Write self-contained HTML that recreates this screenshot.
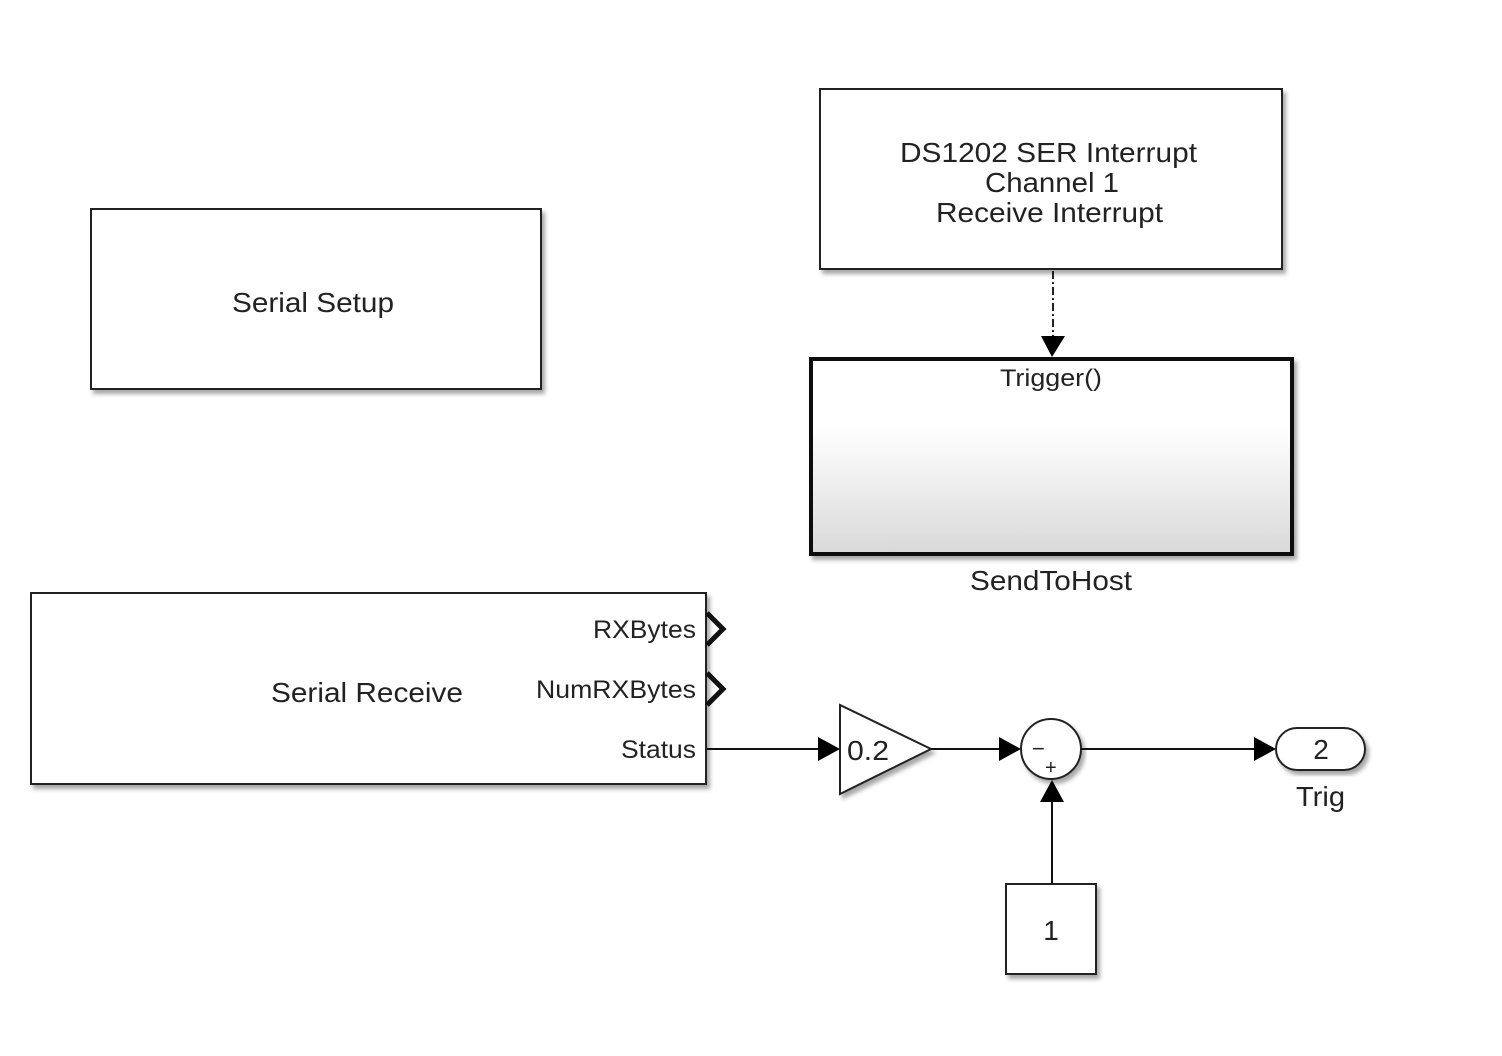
<!DOCTYPE html>
<html><head><meta charset="utf-8"><style>
html,body{margin:0;padding:0;background:#fff;}
svg{display:block;}
text{font-family:"Liberation Sans",Arial,sans-serif;fill:#222;}
</style></head><body>
<svg width="1502" height="1056" viewBox="0 0 1502 1056" xmlns="http://www.w3.org/2000/svg">
<defs>
<linearGradient id="g" x1="0" y1="0" x2="0" y2="1">
<stop offset="0.35" stop-color="#ffffff"/><stop offset="1" stop-color="#d9d9d9"/>
</linearGradient>
<filter id="sh" x="-5%" y="-5%" width="115%" height="120%"><feDropShadow dx="3" dy="4" stdDeviation="2" flood-color="#000" flood-opacity="0.35"/></filter>
</defs>
<rect x="91" y="209" width="450" height="180" fill="#fff" stroke="#222" stroke-width="2" filter="url(#sh)"/>
<text x="232" y="312" font-size="28" textLength="162" lengthAdjust="spacingAndGlyphs">Serial Setup</text>
<rect x="820" y="89" width="462" height="180" fill="#fff" stroke="#222" stroke-width="2" filter="url(#sh)"/>
<text x="900" y="162" font-size="28" textLength="297" lengthAdjust="spacingAndGlyphs">DS1202 SER Interrupt</text>
<text x="985" y="192" font-size="28" textLength="134" lengthAdjust="spacingAndGlyphs">Channel 1</text>
<text x="936" y="222" font-size="28" textLength="227" lengthAdjust="spacingAndGlyphs">Receive Interrupt</text>
<line x1="1053" y1="271" x2="1053" y2="338" stroke="#222" stroke-width="2" stroke-dasharray="8,3,2,3"/>
<polygon points="1041,336 1065,336 1052,357" fill="#000"/>
<rect x="811" y="359" width="481" height="195" fill="url(#g)" stroke="#111" stroke-width="4" filter="url(#sh)"/>
<text x="1000" y="386" font-size="24" textLength="102" lengthAdjust="spacingAndGlyphs">Trigger()</text>
<text x="970" y="590" font-size="28" textLength="162" lengthAdjust="spacingAndGlyphs">SendToHost</text>
<rect x="31" y="593" width="675" height="191" fill="#fff" stroke="#222" stroke-width="2" filter="url(#sh)"/>
<text x="271" y="702" font-size="28" textLength="192" lengthAdjust="spacingAndGlyphs">Serial Receive</text>
<text x="593" y="638" font-size="25" textLength="103" lengthAdjust="spacingAndGlyphs">RXBytes</text>
<text x="536" y="698" font-size="25" textLength="160" lengthAdjust="spacingAndGlyphs">NumRXBytes</text>
<text x="621" y="758" font-size="25" textLength="75" lengthAdjust="spacingAndGlyphs">Status</text>
<polyline points="707,613 723,629 707,645" fill="none" stroke="#111" stroke-width="5"/>
<polyline points="707,673 723,689 707,705" fill="none" stroke="#111" stroke-width="5"/>
<line x1="707" y1="749" x2="820" y2="749" stroke="#111" stroke-width="2"/>
<polygon points="818,737 818,761 840,749" fill="#000"/>
<polygon points="840,705 840,794 931,749" fill="#fff" stroke="#222" stroke-width="2" filter="url(#sh)"/>
<text x="847" y="760" font-size="28" textLength="42" lengthAdjust="spacingAndGlyphs">0.2</text>
<line x1="931" y1="749" x2="1002" y2="749" stroke="#111" stroke-width="2"/>
<polygon points="999,737 999,761 1021,749" fill="#000"/>
<circle cx="1051" cy="749" r="30" fill="#fff" stroke="#222" stroke-width="2" filter="url(#sh)"/>
<text x="1032" y="756" font-size="22">−</text>
<text x="1045" y="774" font-size="20">+</text>
<line x1="1081" y1="749" x2="1256" y2="749" stroke="#111" stroke-width="2"/>
<polygon points="1254,737 1254,761 1276,749" fill="#000"/>
<rect x="1276" y="728" width="89" height="42" rx="21" ry="21" fill="#fff" stroke="#222" stroke-width="2" filter="url(#sh)"/>
<text x="1321" y="759" font-size="28" text-anchor="middle">2</text>
<text x="1296" y="806" font-size="28" textLength="49" lengthAdjust="spacingAndGlyphs">Trig</text>
<line x1="1052" y1="884" x2="1052" y2="800" stroke="#111" stroke-width="2"/>
<polygon points="1040,802 1064,802 1052,780" fill="#000"/>
<rect x="1006" y="884" width="90" height="90" fill="#fff" stroke="#222" stroke-width="2" filter="url(#sh)"/>
<text x="1051" y="940" font-size="28" text-anchor="middle">1</text>
</svg>
</body></html>
